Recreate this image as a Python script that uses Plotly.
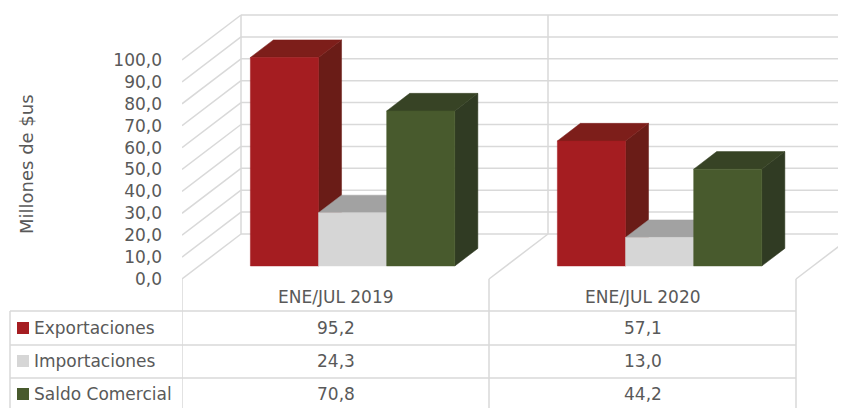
import plotly.graph_objects as go

# ---------------- data ----------------
categories = ["ENE/JUL 2019", "ENE/JUL 2020"]
series_names = ["Exportaciones", "Importaciones", "Saldo Comercial"]
exportaciones = [95.2, 57.1]
importaciones = [24.3, 13.0]
saldo_comercial = [70.8, 44.2]
y_ticks = [0, 10, 20, 30, 40, 50, 60, 70, 80, 90, 100]
y_tick_labels = ["0,0", "10,0", "20,0", "30,0", "40,0", "50,0", "60,0",
                 "70,0", "80,0", "90,0", "100,0"]
y_title = "Millones de $us"

series_values = [exportaciones, importaciones, saldo_comercial]
front_colors = ["#A51D21", "#D6D6D6", "#485A2D"]
top_colors = ["#7D1E1A", "#A2A2A2", "#374325"]
side_colors = ["#6A1C17", "#B0B0B0", "#303B23"]

TEXT = "#595959"
GRID = "#D9D9D9"
FONT = "DejaVu Sans"

# ---------------- geometry (oblique 3D projection) ----------------
# the page body has an 8px margin, so the figure is placed 8px in
OFF = 8
VIEW_W, VIEW_H = 846, 408
W, H = VIEW_W - OFF, VIEW_H - OFF
PLOT_LEFT = 182                      # in window pixels
L_MARGIN = PLOT_LEFT - OFF
UNIT_PX = 307                        # pixels per category
X_RANGE = [-0.5, (VIEW_W - PLOT_LEFT) / UNIT_PX - 0.5]
PX_PER_UNIT = 2.19
ZERO_PY = 279                        # window y of value 0 on the front plane
Y_RANGE = [-(VIEW_H - ZERO_PY) / PX_PER_UNIT, (ZERO_PY - OFF) / PX_PER_UNIT]
DX = 59 / UNIT_PX                    # full depth shift in x units
DY = 45 / PX_PER_UNIT                # full depth shift in value units
D_FRONT, D_BACK = 0.29, 0.68
GROUP = 0.666
BW = GROUP / 3


def P(x, v, d):
    return x + d * DX, v + d * DY


def fmt(v):
    return f"{v:.1f}".replace(".", ",")


def px_x(px):
    return (px - PLOT_LEFT) / (VIEW_W - PLOT_LEFT)


def px_y(py):
    return 1 - (py - OFF) / H


fig = go.Figure()

# ---------------- walls / floor gridlines ----------------
gx, gy = [], []
ncat = len(categories)
x_left, x_right = -0.5, ncat - 0.5


def seg(p, q):
    gx.extend([p[0], q[0], None])
    gy.extend([p[1], q[1], None])


for v in y_ticks:
    seg(P(x_left, v, 0), P(x_left, v, 1))      # left wall
    seg(P(x_left, v, 1), P(x_right, v, 1))     # back wall
for xc in [x_left] + [i + 0.5 for i in range(ncat - 1)]:
    seg(P(xc, y_ticks[0], 1), P(xc, y_ticks[-1], 1))
for xc in [i + 0.5 for i in range(ncat)]:
    seg(P(xc, 0, 0), P(xc, 0, 1))              # floor dividers

fig.add_trace(go.Scatter(x=gx, y=gy, mode="lines",
                         line=dict(color=GRID, width=1.5),
                         hoverinfo="skip", showlegend=False))


def poly(pts, color):
    xs = [p[0] for p in pts] + [pts[0][0]]
    ys = [p[1] for p in pts] + [pts[0][1]]
    fig.add_trace(go.Scatter(x=xs, y=ys, mode="lines", fill="toself",
                             fillcolor=color, line=dict(color=color, width=0.5),
                             hoverinfo="skip", showlegend=False))


# ---------------- 3D bars ----------------
for ci in range(ncat):
    for si, vals in enumerate(series_values):
        v = vals[ci]
        x0 = ci - GROUP / 2 + si * BW
        x1 = x0 + BW
        poly([P(x1, 0, D_FRONT), P(x1, v, D_FRONT), P(x1, v, D_BACK), P(x1, 0, D_BACK)],
             side_colors[si])
        poly([P(x0, v, D_FRONT), P(x1, v, D_FRONT), P(x1, v, D_BACK), P(x0, v, D_BACK)],
             top_colors[si])
        poly([P(x0, 0, D_FRONT), P(x1, 0, D_FRONT), P(x1, v, D_FRONT), P(x0, v, D_FRONT)],
             front_colors[si])

# ---------------- data table ----------------
shapes = []
line = dict(color=GRID, width=1.5)
for py in [311, 345, 378]:
    shapes.append(dict(type="line", xref="paper", yref="paper",
                       x0=px_x(10), x1=px_x(796), y0=px_y(py), y1=px_y(py), line=line))
shapes.append(dict(type="line", xref="paper", yref="paper",
                   x0=px_x(10), x1=px_x(10), y0=px_y(311), y1=px_y(VIEW_H + 5), line=line))
for xc in [x_left] + [i + 0.5 for i in range(ncat)]:
    shapes.append(dict(type="line", xref="x", yref="paper",
                       x0=xc, x1=xc, y0=px_y(279), y1=px_y(VIEW_H + 5), line=line))

annotations = []
tfont = dict(family=FONT, size=17, color=TEXT)
for ci, cat in enumerate(categories):
    annotations.append(dict(x=ci, xref="x", y=px_y(297), yref="paper", text=cat,
                            showarrow=False, font=tfont,
                            xanchor="center", yanchor="middle"))

row_centers = [327.5, 360.5, 393.5]
for si, name in enumerate(series_names):
    yc = row_centers[si]
    shapes.append(dict(type="rect", xref="paper", yref="paper",
                       x0=px_x(17), x1=px_x(29), y0=px_y(yc - 5.5), y1=px_y(yc + 6.5),
                       fillcolor=front_colors[si], line=dict(width=0)))
    annotations.append(dict(x=px_x(32), xref="paper", y=px_y(yc), yref="paper",
                            text=name, showarrow=False, xanchor="left", yanchor="middle",
                            font=tfont))
    for ci in range(ncat):
        annotations.append(dict(x=ci, xref="x", y=px_y(yc), yref="paper",
                                text=fmt(series_values[si][ci]), showarrow=False,
                                xanchor="center", yanchor="middle", font=tfont))

annotations.append(dict(x=px_x(26), xref="paper", y=px_y(164), yref="paper",
                        text=y_title, textangle=-90, showarrow=False,
                        xanchor="center", yanchor="middle",
                        font=dict(family=FONT, size=18, color=TEXT)))

fig.update_layout(
    width=W, height=H,
    margin=dict(l=L_MARGIN, r=0, t=0, b=0),
    paper_bgcolor="white", plot_bgcolor="white",
    xaxis=dict(range=X_RANGE, visible=False, fixedrange=True),
    yaxis=dict(range=Y_RANGE, tickvals=y_ticks, ticktext=y_tick_labels,
               showgrid=False, zeroline=False, showline=False, ticks="",
               ticklabelstandoff=19,
               tickfont=dict(family=FONT, size=17, color=TEXT), fixedrange=True),
    shapes=shapes, annotations=annotations,
    showlegend=False,
)

fig.write_html("out.html")
